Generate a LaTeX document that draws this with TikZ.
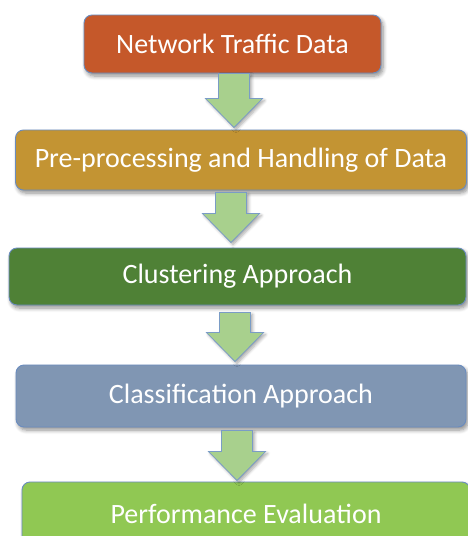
\documentclass[tikz,border=0pt]{standalone}
\usepackage{fontspec}
\setmainfont{Carlito}
\usetikzlibrary{calc,shadows.blur}

\definecolor{boxedge}{HTML}{6A8CBF}
\definecolor{cOrange}{HTML}{C5582A}
\definecolor{cGold}{HTML}{C39433}
\definecolor{cDark}{HTML}{4F8136}
\definecolor{cSlate}{HTML}{8096B3}
\definecolor{cLime}{HTML}{90C853}
\definecolor{arrowfill}{HTML}{A8D08D}
\definecolor{arrowedge}{HTML}{7A9CC6}

\tikzset{
  stagebox/.style={draw=boxedge, line width=0.9pt, rounded corners=8pt,
    text=white, font=\fontsize{28}{32}\selectfont, inner sep=0pt,
    blur shadow={shadow xshift=2pt, shadow yshift=-3pt, shadow blur steps=6,
      shadow blur radius=4pt, shadow opacity=45}},
  flowarrowstyle/.style={draw=arrowedge, line width=0.8pt, fill=arrowfill,
    line join=miter,
    blur shadow={shadow xshift=2pt, shadow yshift=-2pt, shadow blur steps=5,
      shadow blur radius=3pt, shadow opacity=35}}
}

% block arrow from the bottom of #1 to the top of #2, centred on x=#3,
% starting #4 below #1 and ending #5 above #2
\newcommand\flowarrow[5]{%
  \path let \p1=(#1.south), \p2=(#2.north) in
    [flowarrowstyle]
    ({#3pt-15.5pt},{\y1-#4pt}) -- ({#3pt+15.5pt},{\y1-#4pt})
    -- ({#3pt+15.5pt},{\y2+#5pt+29pt}) -- ({#3pt+28.5pt},{\y2+#5pt+29pt})
    -- ({#3pt},{\y2+#5pt})
    -- ({#3pt-28.5pt},{\y2+#5pt+29pt}) -- ({#3pt-15.5pt},{\y2+#5pt+29pt})
    -- cycle;}

\begin{document}
\begin{tikzpicture}[x=1pt,y=-1pt]
  \useasboundingbox (0,0) rectangle (468,536);

  \node[stagebox, fill=cOrange, minimum width=297pt, minimum height=58pt]
    (n1) at (232.5,44) {Network Traffic Data};
  \node[stagebox, fill=cGold, minimum width=451pt, minimum height=60pt]
    (n2) at (241,160) {Pre-processing and Handling of Data};
  \node[stagebox, fill=cDark, minimum width=457pt, minimum height=57pt]
    (n3) at (237.5,276.5) {Clustering Approach};
  \node[stagebox, fill=cSlate, minimum width=450pt, minimum height=62pt]
    (n4) at (241,396) {Classifica\kern0pt tion Approach};
  \node[stagebox, fill=cLime, minimum width=448pt, minimum height=64pt]
    (n5) at (246,514) {Performance Evalua\kern0pt tion};

  \flowarrow{n1}{n2}{234}{0}{2}
  \flowarrow{n2}{n3}{231}{2}{5}
  \flowarrow{n3}{n4}{235}{7}{3}
  \flowarrow{n4}{n5}{237}{3}{1}
\end{tikzpicture}
\end{document}
